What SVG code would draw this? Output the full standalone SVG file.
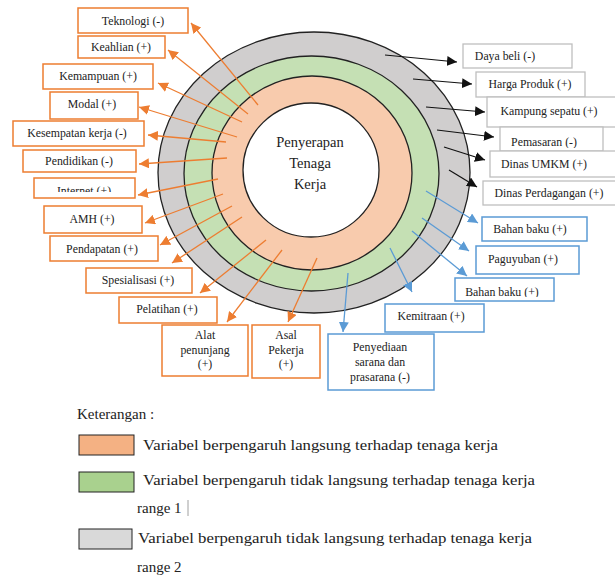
<svg xmlns="http://www.w3.org/2000/svg" width="615" height="575" viewBox="0 0 615 575" font-family="'Liberation Serif', 'DejaVu Serif', serif">
<style>
text{font-family:'Liberation Serif','DejaVu Serif',serif;fill:#222;}
.lb{font-size:11.8px;text-anchor:middle;}
.ctr{font-size:14.5px;text-anchor:middle;}
.lg{font-size:15px;}
.ob{fill:#fff;stroke:#ED7D31;stroke-width:1.5;}
.gb{fill:#fff;stroke:#BFBFBF;stroke-width:1.3;}
.bb{fill:#fff;stroke:#5B9BD5;stroke-width:1.5;}
.ring{stroke:#222;stroke-width:1.3;}
.oa{stroke:#ED7D31;stroke-width:1.3;fill:none;marker-end:url(#ao);}
.ka{stroke:#111;stroke-width:1.2;fill:none;marker-end:url(#ak);}
.ba{stroke:#5B9BD5;stroke-width:1.3;fill:none;marker-end:url(#ab);}
</style>
<defs>
<marker id="ao" markerUnits="userSpaceOnUse" markerWidth="12" markerHeight="10" refX="10" refY="5" orient="auto"><path d="M0,0 L10,5 L0,10 Z" fill="#ED7D31"/></marker>
<marker id="ak" markerUnits="userSpaceOnUse" markerWidth="12" markerHeight="10" refX="10" refY="5" orient="auto"><path d="M0,0 L10,5 L0,10 Z" fill="#111"/></marker>
<marker id="ab" markerUnits="userSpaceOnUse" markerWidth="12" markerHeight="10" refX="10" refY="5" orient="auto"><path d="M0,0 L10,5 L0,10 Z" fill="#5B9BD5"/></marker>
<clipPath id="cInternet"><rect x="34" y="178" width="101" height="14"/></clipPath>
<clipPath id="cPemasaran"><rect x="500" y="127" width="103" height="21"/></clipPath>
<clipPath id="cBahan2"><rect x="455" y="278" width="99" height="19"/></clipPath>
</defs>

<g id="rings">
<ellipse class="ring" cx="314" cy="172.5" rx="156" ry="140.5" fill="#D0CECE"/>
<ellipse class="ring" cx="311.5" cy="173.5" rx="127.5" ry="117.5" fill="#C5E0B4"/>
<ellipse class="ring" cx="312" cy="173" rx="100" ry="97" fill="#F8CBAD"/>
<ellipse class="ring" cx="311" cy="170" rx="68" ry="67" fill="#fff"/>
<text class="ctr" x="310" y="147">Penyerapan</text>
<text class="ctr" x="310" y="168">Tenaga</text>
<text class="ctr" x="310" y="189">Kerja</text>
</g>

<g id="connectors">
<line class="oa" x1="258" y1="105" x2="191" y2="23"/>
<line class="oa" x1="248" y1="114" x2="168" y2="50"/>
<line class="oa" x1="242" y1="122" x2="158" y2="83"/>
<line class="oa" x1="237" y1="137" x2="139" y2="107"/>
<line class="oa" x1="226" y1="142" x2="148" y2="135"/>
<line class="oa" x1="227" y1="158" x2="139" y2="164"/>
<line class="oa" x1="218" y1="179" x2="138" y2="195"/>
<line class="oa" x1="223" y1="194" x2="145" y2="223"/>
<line class="oa" x1="232" y1="206" x2="160" y2="245"/>
<line class="oa" x1="242" y1="217" x2="172" y2="263"/>
<line class="oa" x1="266" y1="240" x2="200" y2="293"/>
<line class="oa" x1="282" y1="250" x2="227" y2="322"/>
<line class="oa" x1="317" y1="258" x2="288" y2="322"/>
<line class="ka" x1="385" y1="55" x2="457" y2="62"/>
<line class="ka" x1="413" y1="79" x2="472" y2="84"/>
<line class="ka" x1="426" y1="107" x2="485" y2="112"/>
<line class="ka" x1="437" y1="130" x2="494" y2="137"/>
<line class="ka" x1="444" y1="147" x2="485" y2="160"/>
<line class="ka" x1="449" y1="170" x2="477" y2="187"/>
<line class="ba" x1="426" y1="191" x2="478" y2="223"/>
<line class="ba" x1="422" y1="218" x2="469" y2="251"/>
<line class="ba" x1="412" y1="231" x2="467" y2="276"/>
<line class="ba" x1="390" y1="248" x2="412" y2="292"/>
<line class="ba" x1="348" y1="273" x2="343" y2="332"/>
</g>

<g id="n-teknologi"><rect class="ob" x="78" y="8" width="110" height="25"/><text class="lb" x="133" y="25">Teknologi (-)</text></g>
<g id="n-keahlian"><rect class="ob" x="78" y="36" width="87" height="22"/><text class="lb" x="121" y="51">Keahlian (+)</text></g>
<g id="n-kemampuan"><rect class="ob" x="43" y="64" width="110" height="25"/><text class="lb" x="98" y="80">Kemampuan (+)</text></g>
<g id="n-modal"><rect class="ob" x="50" y="92" width="88" height="27"/><text class="lb" x="92" y="108">Modal (+)</text></g>
<g id="n-kesempatan"><rect class="ob" x="13" y="121" width="131" height="25"/><text class="lb" x="77" y="137">Kesempatan kerja (-)</text></g>
<g id="n-pendidikan"><rect class="ob" x="23" y="150" width="113" height="22"/><text class="lb" x="79" y="165">Pendidikan (-)</text></g>
<g id="n-internet"><rect class="ob" x="34" y="178" width="101" height="20"/><text class="lb" x="84" y="195" clip-path="url(#cInternet)">Internet (+)</text></g>
<g id="n-amh"><rect class="ob" x="44" y="206" width="98" height="27"/><text class="lb" x="92" y="223">AMH (+)</text></g>
<g id="n-pendapatan"><rect class="ob" x="50" y="236" width="108" height="25"/><text class="lb" x="102" y="253">Pendapatan (+)</text></g>
<g id="n-spesialisasi"><rect class="ob" x="86" y="268" width="106" height="25"/><text class="lb" x="138" y="284">Spesialisasi (+)</text></g>
<g id="n-pelatihan"><rect class="ob" x="119" y="297" width="98" height="26"/><text class="lb" x="167" y="313">Pelatihan (+)</text></g>
<g id="n-alat"><rect class="ob" x="162" y="325" width="86" height="51"/><text class="lb" x="205" y="339">Alat</text><text class="lb" x="205" y="354">penunjang</text><text class="lb" x="205" y="368">(+)</text></g>
<g id="n-asal"><rect class="ob" x="252" y="325" width="68" height="53"/><text class="lb" x="286" y="339">Asal</text><text class="lb" x="286" y="354">Pekerja</text><text class="lb" x="286" y="368">(+)</text></g>

<g id="n-daya"><rect class="gb" x="463" y="44" width="109" height="24"/><text class="lb" x="505" y="60">Daya beli (-)</text></g>
<g id="n-harga"><rect class="gb" x="476" y="72" width="109" height="25"/><text class="lb" x="530" y="88">Harga Produk (+)</text></g>
<g id="n-kampung"><rect class="gb" x="487" y="97" width="133" height="30"/><text class="lb" x="549" y="115">Kampung sepatu (+)</text></g>
<g id="n-pemasaran"><rect class="gb" x="500" y="127" width="103" height="24"/><text class="lb" x="544" y="146" clip-path="url(#cPemasaran)">Pemasaran (-)</text></g>
<g id="n-umkm"><rect class="gb" x="490" y="151" width="130" height="26"/><text class="lb" x="544" y="168">Dinas UMKM (+)</text></g>
<g id="n-perdagangan"><rect class="gb" x="483" y="181" width="137" height="24"/><text class="lb" x="549" y="197">Dinas Perdagangan (+)</text></g>

<g id="n-bahan1"><rect class="bb" x="482" y="217" width="105" height="24"/><text class="lb" x="530" y="233">Bahan baku (+)</text></g>
<g id="n-paguyuban"><rect class="bb" x="476" y="246" width="103" height="28"/><text class="lb" x="523" y="263">Paguyuban (+)</text></g>
<g id="n-bahan2"><rect class="bb" x="455" y="278" width="99" height="23"/><text class="lb" x="502" y="296" clip-path="url(#cBahan2)">Bahan baku (+)</text></g>
<g id="n-kemitraan"><rect class="bb" x="385" y="304" width="99" height="28"/><text class="lb" x="431" y="320">Kemitraan (+)</text></g>
<g id="n-penyediaan"><rect class="bb" x="328" y="334" width="106" height="56"/><text class="lb" x="380" y="351">Penyediaan</text><text class="lb" x="380" y="366">sarana dan</text><text class="lb" x="380" y="381">prasarana (-)</text></g>

<g id="legend">
<text class="lg" x="77" y="419">Keterangan :</text>
<rect x="79" y="435" width="55" height="20" fill="#F4B183" stroke="#222" stroke-width="1"/>
<text class="lg" x="143" y="450" textLength="355" lengthAdjust="spacingAndGlyphs">Variabel berpengaruh langsung terhadap tenaga kerja</text>
<rect x="79" y="472" width="55" height="20" fill="#A9D18E" stroke="#222" stroke-width="1"/>
<text class="lg" x="143" y="485" textLength="392" lengthAdjust="spacingAndGlyphs">Variabel berpengaruh tidak langsung terhadap tenaga kerja</text>
<text class="lg" x="137" y="513">range 1</text>
<line x1="188" y1="500" x2="188" y2="516" stroke="#888" stroke-width="0.8"/>
<rect x="79" y="529" width="53" height="20" fill="#D9D9D9" stroke="#222" stroke-width="1"/>
<text class="lg" x="138" y="543" textLength="394" lengthAdjust="spacingAndGlyphs">Variabel berpengaruh tidak langsung terhadap tenaga kerja</text>
<text class="lg" x="137" y="572">range 2</text>
</g>
</svg>
